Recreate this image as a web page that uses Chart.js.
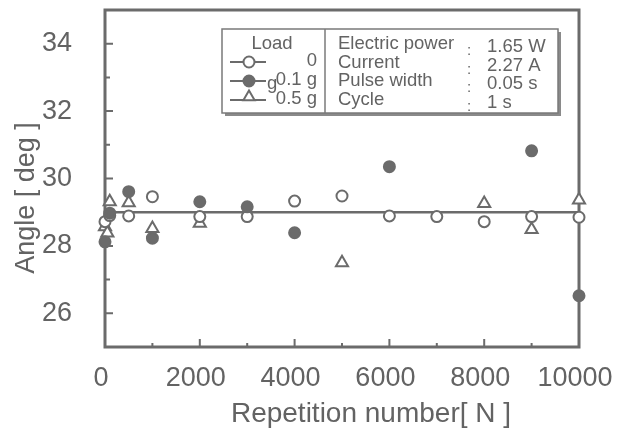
<!DOCTYPE html>
<html>
<head>
<meta charset="utf-8">
<title>Angle vs repetition number</title>
<script src="https://cdn.jsdelivr.net/npm/chart.js@4.4.0/dist/chart.umd.min.js"></script>
<style>
  html, body { margin: 0; padding: 0; background: #fff; }
  #wrap { width: 622px; height: 432px; position: relative; }
</style>
</head>
<body>
<div id="wrap"><canvas id="angleChart"></canvas></div>
<script>
// measured angle for each load, by repetition number
const xOpen = [0, 100, 500, 1000, 2000, 3000, 4000, 5000, 6000, 7000, 8000, 9000, 10000];
const yOpen = [28.72, 28.9, 28.89, 29.46, 28.87, 28.87, 29.33, 29.48, 28.89, 28.87, 28.72, 28.87, 28.85];

const xFilled = [0, 100, 500, 1000, 2000, 3000, 4000, 6000, 9000, 10000];
const yFilled = [28.12, 28.97, 29.61, 28.23, 29.31, 29.16, 28.39, 30.35, 30.82, 26.52];

const xTri = [0, 50, 100, 500, 1000, 2000, 5000, 8000, 9000, 10000];
const yTri = [28.57, 28.38, 29.31, 29.28, 28.52, 28.67, 27.5, 29.26, 28.49, 29.36];

const refAngle = 29;

const xTicks = [0, 2000, 4000, 6000, 8000, 10000];
const xMinor = [1000, 3000, 5000, 7000, 9000];
const yTicks = [26, 28, 30, 32, 34];
const yMinor = [25, 27, 29, 31, 33];

const loadLabels = ['0', '0.1 g', '0.5 g'];
const condNames = ['Electric power', 'Current', 'Pulse width', 'Cycle'];
const condValues = ['1.65 W', '2.27 A', '0.05 s', '1 s'];

const GRAY = '#6b6b6b';
const TEXT = '#636363';
const FONT = '"Liberation Sans", Arial, sans-serif';

function toPoints(xs, ys) {
  return xs.map((x, i) => ({ x: x, y: ys[i] }));
}

// small marker drawer for the legend box
function marker(ctx, style, x, y) {
  ctx.save();
  ctx.lineWidth = 2;
  ctx.strokeStyle = GRAY;
  ctx.fillStyle = style === 'filled' ? GRAY : '#fff';
  ctx.beginPath();
  if (style === 'triangle') {
    const r = 6.5;
    for (let k = 0; k < 3; k++) {
      const a = k * 2 * Math.PI / 3;
      const px = x + Math.sin(a) * r, py = y - Math.cos(a) * r;
      if (k === 0) ctx.moveTo(px, py); else ctx.lineTo(px, py);
    }
    ctx.closePath();
  } else {
    ctx.arc(x, y, 5.5, 0, Math.PI * 2);
  }
  ctx.fill();
  ctx.stroke();
  ctx.restore();
}

// frame round the plot and inward tick marks
const framePlugin = {
  id: 'frame',
  beforeDatasetsDraw(chart) {
    const { ctx, chartArea: a, scales } = chart;
    ctx.save();
    ctx.strokeStyle = GRAY;
    ctx.lineWidth = 3;
    ctx.strokeRect(a.left, a.top, a.right - a.left, a.bottom - a.top);
    ctx.lineWidth = 2;
    ctx.beginPath();
    xTicks.concat(xMinor).forEach(v => {
      const px = scales.x.getPixelForValue(v);
      const len = xMinor.includes(v) ? 4 : 8;
      ctx.moveTo(px, a.bottom);
      ctx.lineTo(px, a.bottom - len);
    });
    yTicks.concat(yMinor).forEach(v => {
      const py = scales.y.getPixelForValue(v);
      const len = yMinor.includes(v) ? 5 : 8;
      ctx.moveTo(a.left, py);
      ctx.lineTo(a.left + len, py);
    });
    ctx.stroke();
    ctx.restore();
  },
  afterDraw(chart) {
    const ctx = chart.ctx;
    ctx.save();
    ctx.fillStyle = TEXT;
    ctx.font = '28px ' + FONT;
    ctx.textAlign = 'center';
    ctx.textBaseline = 'middle';
    ctx.fillText('Repetition number[ N ]', 371, 414);
    ctx.font = '27px ' + FONT;
    ctx.translate(27, 198);
    ctx.rotate(-Math.PI / 2);
    ctx.fillText('Angle [ deg ]', 0, 0);
    ctx.restore();
  }
};

// boxed legend with load symbols and drive conditions
const legendPlugin = {
  id: 'legendBox',
  afterDraw(chart) {
    const ctx = chart.ctx;
    const L = 222, T = 29, R = 558, B = 113;
    ctx.save();
    // shadow on right and bottom
    ctx.fillStyle = '#8a8a8a';
    ctx.fillRect(L + 3, B - 1, R - L, 4);
    ctx.fillRect(R - 1, T + 3, 4, B - T);
    ctx.fillStyle = '#fff';
    ctx.fillRect(L, T, R - L, B - T);
    ctx.strokeStyle = '#7a7a7a';
    ctx.lineWidth = 1.5;
    ctx.strokeRect(L, T, R - L, B - T);
    ctx.beginPath();
    ctx.moveTo(325, T);
    ctx.lineTo(325, B);
    ctx.stroke();

    ctx.fillStyle = TEXT;
    ctx.font = '18.5px ' + FONT;
    ctx.textBaseline = 'middle';
    ctx.textAlign = 'center';
    ctx.fillText('Load', 272, 44);

    const rowY = [62, 81, 100];
    const styles = ['open', 'filled', 'triangle'];
    rowY.forEach((y, i) => {
      ctx.strokeStyle = GRAY;
      ctx.lineWidth = 2;
      ctx.beginPath();
      ctx.moveTo(230, y);
      ctx.lineTo(266, y);
      ctx.stroke();
      marker(ctx, styles[i], 249, styles[i] === 'triangle' ? y - 3 : y);
      ctx.fillStyle = TEXT;
      ctx.textAlign = 'right';
      ctx.fillText(loadLabels[i], 317, y - 1);
    });
    // stray "g" printed before 0.1 g
    ctx.textAlign = 'left';
    ctx.fillText('g', 267, 84);

    const condY = [44, 63, 81, 100];
    condNames.forEach((name, i) => {
      ctx.textAlign = 'left';
      ctx.fillText(name, 338, condY[i]);
      ctx.fillText(condValues[i], 487, condY[i] + 3);
      ctx.font = '15px ' + FONT;
      ctx.textAlign = 'center';
      ctx.fillText(':', 469, condY[i] + 7);
      ctx.font = '18.5px ' + FONT;
    });
    ctx.restore();
  }
};

const pointBase = {
  showLine: false,
  borderColor: GRAY,
  pointBorderColor: GRAY,
  pointBorderWidth: 2,
  clip: false,
  order: 1
};

new Chart('angleChart', {
  type: 'scatter',
  data: {
    datasets: [
      {
        type: 'line',
        label: 'mean',
        data: [{ x: 0, y: refAngle }, { x: 10000, y: refAngle }],
        borderColor: GRAY,
        borderWidth: 2.5,
        pointRadius: 0,
        order: 10
      },
      Object.assign({}, pointBase, {
        label: '0',
        data: toPoints(xOpen, yOpen),
        pointStyle: 'circle',
        pointRadius: 5.5,
        pointBackgroundColor: '#fff'
      }),
      Object.assign({}, pointBase, {
        label: '0.5 g',
        data: toPoints(xTri, yTri),
        pointStyle: 'triangle',
        pointRadius: 7,
        pointBackgroundColor: '#fff'
      }),
      Object.assign({}, pointBase, {
        label: '0.1 g',
        data: toPoints(xFilled, yFilled),
        pointStyle: 'circle',
        pointRadius: 5.5,
        pointBackgroundColor: GRAY,
        order: 0
      })
    ]
  },
  options: {
    responsive: true,
    maintainAspectRatio: false,
    animation: false,
    layout: {
      autoPadding: false,
      padding: { top: 10, right: 43, left: 0, bottom: 0 }
    },
    plugins: {
      legend: { display: false },
      tooltip: { enabled: false }
    },
    scales: {
      x: {
        type: 'linear',
        min: 0,
        max: 10000,
        afterBuildTicks: s => { s.ticks = xTicks.map(v => ({ value: v })); },
        afterFit: s => {
          s.height = 85;
          s.paddingLeft = 0;
          s.paddingRight = 0;
        },
        grid: { display: false },
        border: { display: false },
        ticks: {
          color: TEXT,
          font: { family: FONT, size: 27 },
          padding: 7,
          labelOffset: -4,
          maxRotation: 0,
          autoSkip: false,
          callback: v => String(v)
        }
      },
      y: {
        min: 25,
        max: 35,
        afterBuildTicks: s => { s.ticks = yTicks.map(v => ({ value: v })); },
        afterFit: s => {
          s.width = 105;
          s.paddingTop = 0;
          s.paddingBottom = 0;
        },
        grid: { display: false },
        border: { display: false },
        ticks: {
          color: TEXT,
          font: { family: FONT, size: 27 },
          padding: 25,
          callback: v => String(v)
        }
      }
    }
  },
  plugins: [framePlugin, legendPlugin]
});
</script>
</body>
</html>
